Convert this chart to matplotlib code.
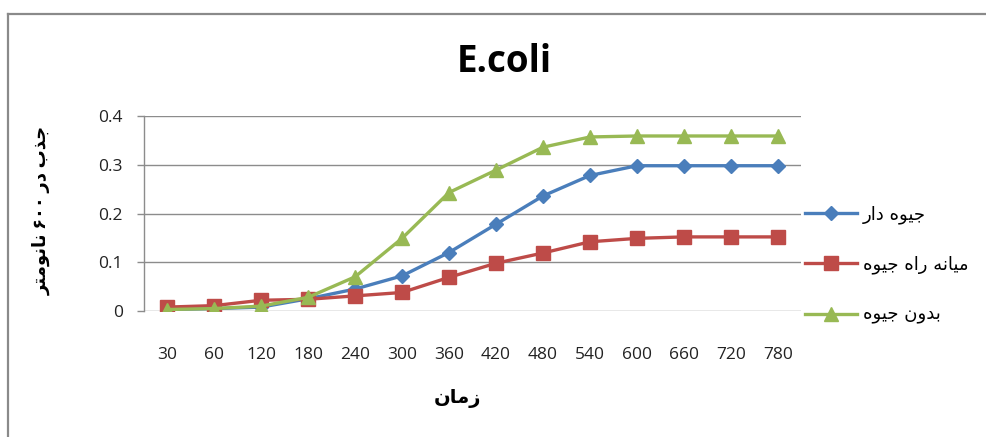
import matplotlib
matplotlib.use("Agg")
import matplotlib.pyplot as plt
from matplotlib.lines import Line2D

# ---------------- data ----------------
times = ["30", "60", "120", "180", "240", "300", "360", "420", "480", "540", "600", "660", "720", "780"]
with_mercury = [0.003, 0.005, 0.008, 0.025, 0.045, 0.072, 0.12, 0.178, 0.236, 0.278, 0.298, 0.298, 0.298, 0.298]
medium_mercury = [0.008, 0.011, 0.022, 0.024, 0.031, 0.038, 0.069, 0.098, 0.119, 0.142, 0.149, 0.152, 0.152, 0.152]
no_mercury = [0.003, 0.005, 0.010, 0.028, 0.070, 0.149, 0.243, 0.289, 0.336, 0.357, 0.359, 0.359, 0.359, 0.359]
series_names = ["جیوه دار", "میانه راه جیوه", "بدون جیوه"]
title = "E.coli"
x_title = "زمان"
y_title = "جذب در ۶۰۰ نانومتر"
yticks = [0, 0.1, 0.2, 0.3, 0.4]
ytick_labels = ["0", "0.1", "0.2", "0.3", "0.4"]

# ------------- simple Arabic/Persian shaping -------------
FORMS = {
    "ا": ("\uFE8D", "\uFE8E", None, None),
    "ب": ("\uFE8F", "\uFE90", "\uFE91", "\uFE92"),
    "ت": ("\uFE95", "\uFE96", "\uFE97", "\uFE98"),
    "ج": ("\uFE9D", "\uFE9E", "\uFE9F", "\uFEA0"),
    "د": ("\uFEA9", "\uFEAA", None, None),
    "ذ": ("\uFEAB", "\uFEAC", None, None),
    "ر": ("\uFEAD", "\uFEAE", None, None),
    "ز": ("\uFEAF", "\uFEB0", None, None),
    "م": ("\uFEE1", "\uFEE2", "\uFEE3", "\uFEE4"),
    "ن": ("\uFEE5", "\uFEE6", "\uFEE7", "\uFEE8"),
    "ه": ("\uFEE9", "\uFEEA", "\uFEEB", "\uFEEC"),
    "و": ("\uFEED", "\uFEEE", None, None),
    "ی": ("\uFBFC", "\uFBFD", "\uFEF3", "\uFEF4"),
}


def shape_word(w):
    out = []
    for i, c in enumerate(w):
        if c not in FORMS:
            out.append(c)
            continue
        prev = w[i - 1] if i > 0 else None
        nxt = w[i + 1] if i + 1 < len(w) else None
        pj = prev is not None and prev in FORMS and FORMS[prev][2] is not None
        nj = nxt is not None and nxt in FORMS and FORMS[c][2] is not None
        iso, fin, ini, med = FORMS[c]
        if pj and nj:
            out.append(med)
        elif pj:
            out.append(fin)
        elif nj:
            out.append(ini)
        else:
            out.append(iso)
    return "".join(out)


def rtl(text):
    words = text.split(" ")
    vis = []
    for w in reversed(words):
        if any(ch in FORMS for ch in w):
            vis.append(shape_word(w)[::-1])
        else:
            vis.append(w)
    return " ".join(vis)


FAM = ["Open Sans", "DejaVu Sans"]
plt.rcParams["font.family"] = FAM

fig = plt.figure(figsize=(9.86, 4.37), dpi=100)
ax = fig.add_axes([143.5 / 986, (437 - 311) / 437, 658 / 986, 195 / 437])

x = list(range(len(times)))
colors = ["#4A7EBB", "#BE4B48", "#98B954"]
markers = ["D", "s", "^"]
msizes = [7, 10, 10]
for ys, c, m, ms, name in zip([with_mercury, medium_mercury, no_mercury], colors, markers, msizes, series_names):
    ax.plot(x, ys, color=c, lw=2.4, marker=m, ms=ms, mec=c, mfc=c, label=rtl(name), zorder=3)

ax.set_xlim(-0.5, len(times) - 0.5)
ax.set_ylim(0, 0.4)
ax.set_xticks(x)
ax.set_xticklabels(times, fontsize=12.5, color="#222222")
ax.set_yticks(yticks)
ax.set_yticklabels(ytick_labels, fontsize=12.5, color="#222222")
ax.tick_params(axis="x", length=0, pad=26)
ax.tick_params(axis="y", length=5, width=1, color="#8c8c8c", pad=10, direction="out")
ax.grid(axis="y", color="#8c8c8c", lw=1)
ax.set_axisbelow(True)
for s in ["top", "right", "bottom"]:
    ax.spines[s].set_visible(False)
ax.spines["left"].set_color("#8c8c8c")
ax.spines["left"].set_linewidth(1)

ax.set_xlabel(rtl(x_title), fontsize=14, fontweight="bold", family=["DejaVu Sans"])
ax.xaxis.set_label_coords((458 - 143.5) / 658, -(398 - 311) / 195)
ax.xaxis.label.set_va("center")
ax.set_ylabel(rtl(y_title), fontsize=13, fontweight="bold", family=["Open Sans", "DejaVu Sans"])
ax.yaxis.set_label_coords(-(143.5 - 42) / 658, (311 - 210) / 195)
ax.yaxis.label.set_va("center")

fig.text(504 / 986, 1 - 62 / 437, title, fontsize=26.5, fontweight="bold", ha="center", va="center")

leg = ax.legend(loc="center left", bbox_to_anchor=(1.0, (311 - 265) / 195), frameon=False,
                prop={"size": 13, "family": ["DejaVu Sans"]},
                handlelength=2.9, labelspacing=1.75, handletextpad=0.3,
                borderaxespad=0.0, borderpad=0.2)

# outer chart border (left and top edges visible)
fig.add_artist(Line2D([7.5 / 986, 7.5 / 986], [0, 1 - 14 / 437], transform=fig.transFigure,
                      color="#8a8a8a", lw=1.6))
fig.add_artist(Line2D([7.5 / 986, 1], [1 - 14 / 437, 1 - 14 / 437], transform=fig.transFigure,
                      color="#8a8a8a", lw=1.6))

fig.savefig("out.png", dpi=100, facecolor="white")
